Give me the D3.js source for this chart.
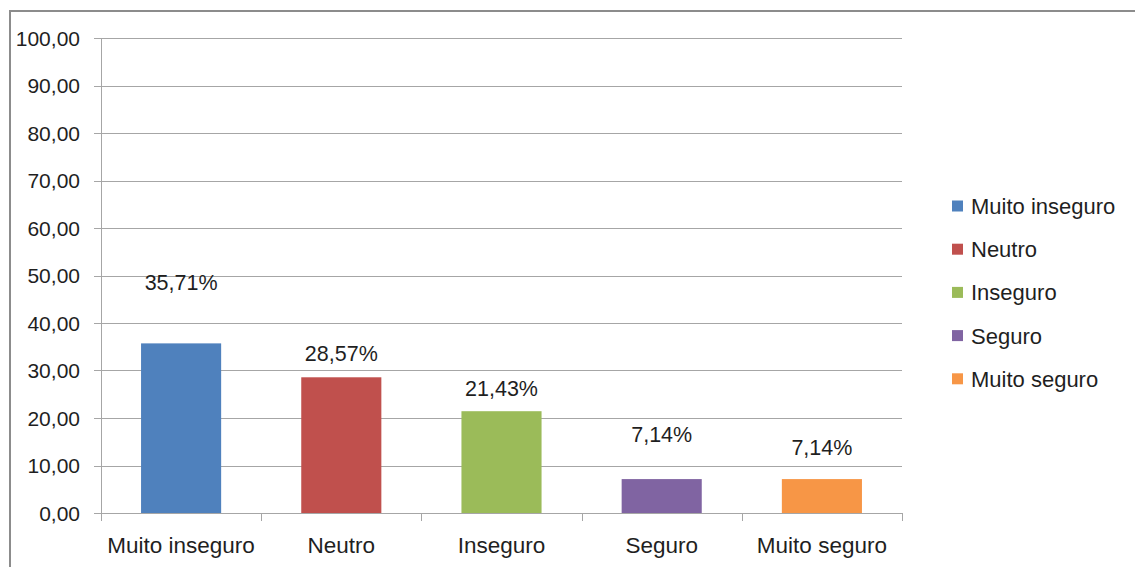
<!DOCTYPE html>
<html><head><meta charset="utf-8">
<script src="https://cdn.jsdelivr.net/npm/d3@7"></script>
<style>
html,body{margin:0;padding:0;background:#fff;}
svg text{font-family:"Liberation Sans","Open Sans",sans-serif;fill:#1f1f1f;}
</style></head>
<body><svg id="c" width="1135" height="567"></svg>
<script>
const categories = ["Muito inseguro","Neutro","Inseguro","Seguro","Muito seguro"];
const values = [35.71, 28.57, 21.43, 7.14, 7.14];
const valueLabels = ["35,71%","28,57%","21,43%","7,14%","7,14%"];
const yTicks = [0,10,20,30,40,50,60,70,80,90,100];
const colors = ["#4F81BD","#C0504D","#9BBB59","#8064A2","#F79646"];
// label anchor heights (in axis units) as placed in the original
const labelAt = [48.6, 33.7, 26.3, 16.6, 13.9];

const svg = d3.select("#c");
svg.append("rect").attr("x",10).attr("y",11).attr("width",1200).attr("height",700)
  .attr("fill","#fff").attr("stroke","#8c8c8c").attr("stroke-width",2);

const L=101, R=902, T=38, B=513;
const x = d3.scaleBand().domain(categories).range([L,R]).paddingInner(0.5).paddingOuter(0.25);
const xb = d3.scaleBand().domain(categories).range([L,R]);
const y = d3.scaleLinear().domain([0,100]).range([B,T]);
const fmt = d => d.toFixed(2).replace(".",",");

// gridlines + y ticks
svg.append("g").selectAll("line").data(yTicks).join("line")
  .attr("x1",94).attr("x2",R).attr("y1",d=>Math.round(y(d))+0.5).attr("y2",d=>Math.round(y(d))+0.5)
  .attr("stroke","#a6a6a6").attr("stroke-width",1);
svg.append("g").selectAll("text").data(yTicks).join("text")
  .attr("x",80).attr("y",d=>y(d)).attr("dy","0.36em").attr("text-anchor","end")
  .attr("font-size",21).text(fmt);
// y axis line
svg.append("line").attr("x1",L+0.5).attr("x2",L+0.5).attr("y1",T).attr("y2",B)
  .attr("stroke","#a6a6a6");
// x axis ticks at boundaries
const bounds = categories.map(c=>xb(c)).concat([R]);
svg.append("g").selectAll("line").data(bounds).join("line")
  .attr("x1",d=>Math.round(d)+0.5).attr("x2",d=>Math.round(d)+0.5).attr("y1",B).attr("y2",B+8)
  .attr("stroke","#a6a6a6");

// bars
svg.append("g").selectAll("rect").data(values).join("rect")
  .attr("x",(d,i)=>x(categories[i])).attr("width",x.bandwidth())
  .attr("y",d=>y(d)).attr("height",d=>B-y(d))
  .attr("fill",(d,i)=>colors[i]);

// value labels
svg.append("g").selectAll("text").data(valueLabels).join("text")
  .attr("x",(d,i)=>x(categories[i])+x.bandwidth()/2).attr("y",(d,i)=>y(labelAt[i]))
  .attr("dy","0.36em").attr("text-anchor","middle").attr("font-size",21.5).text(d=>d);

// x labels
svg.append("g").selectAll("text").data(categories).join("text")
  .attr("x",d=>xb(d)+xb.bandwidth()/2).attr("y",545).attr("dy","0.36em")
  .attr("text-anchor","middle").attr("font-size",22.5).text(d=>d);

// legend
const lg = svg.append("g");
categories.forEach((c,i)=>{
  const cy = 206 + i*43.2;
  lg.append("rect").attr("x",952).attr("y",cy-5.5).attr("width",11).attr("height",11).attr("fill",colors[i]);
  lg.append("text").attr("x",971).attr("y",cy).attr("dy","0.36em").attr("font-size",22).text(c);
});
</script></body></html>
